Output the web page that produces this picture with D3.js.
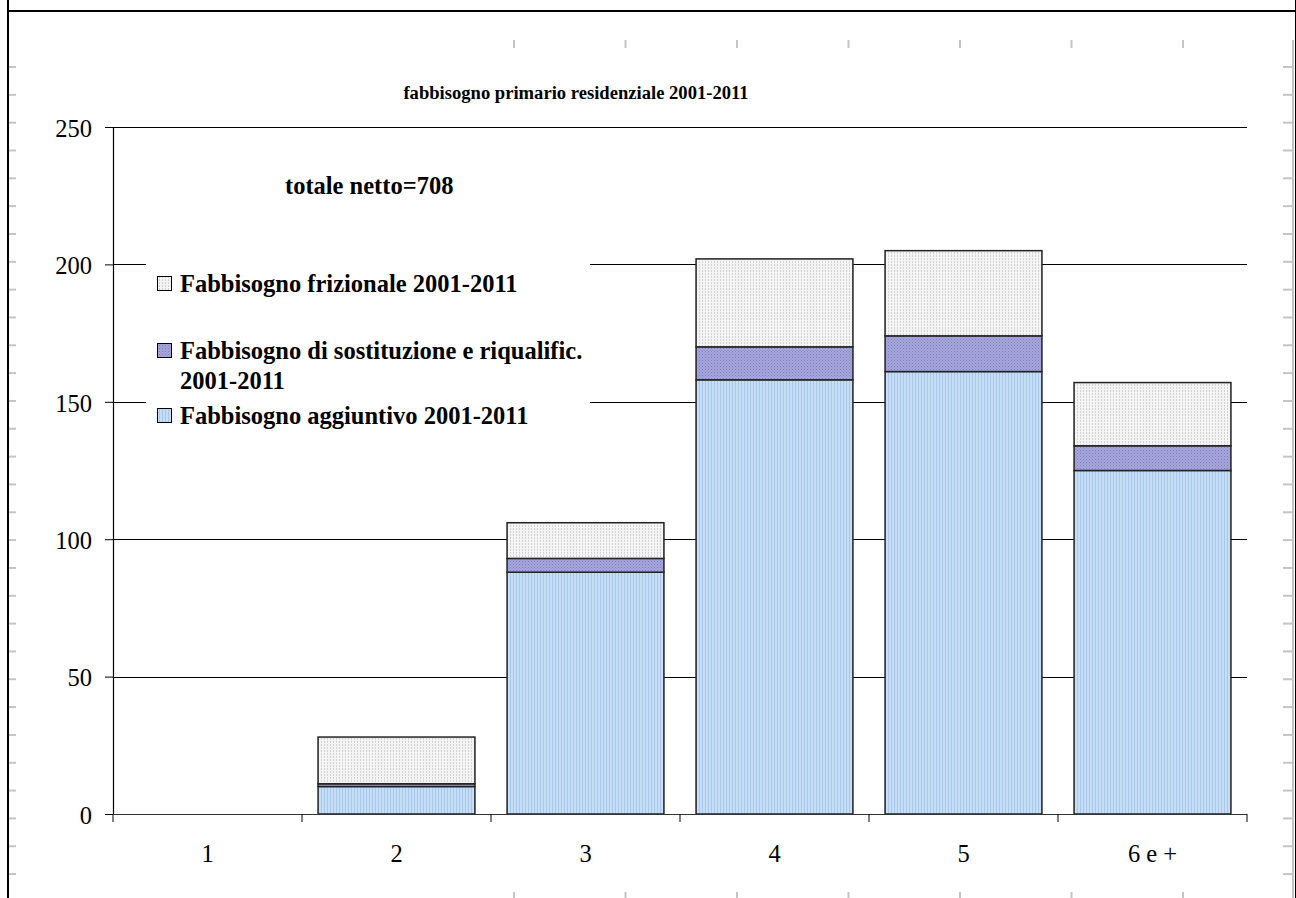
<!DOCTYPE html>
<html>
<head>
<meta charset="utf-8">
<script src="https://cdn.jsdelivr.net/npm/d3@7"></script>
<style>
  html, body { margin: 0; padding: 0; background: #fff; }
  svg { display: block; }
  text { font-family: "Liberation Serif", "Times New Roman", Times, serif; fill: #000; }
</style>
</head>
<body>
<svg id="chart" width="1296" height="898"></svg>
<script>
// Categories: number of rooms per dwelling
const categories = ["1", "2", "3", "4", "5", "6 e +"];
// Stacked series (bottom to top)
const aggiuntivo   = [0, 10, 88, 158, 161, 125];
const sostituzione = [0, 1, 5, 12, 13, 9];
const frizionale   = [0, 17, 13, 32, 31, 23];
const yTicks = [0, 50, 100, 150, 200, 250];

const seriesNames = [
  "Fabbisogno aggiuntivo 2001-2011",
  "Fabbisogno di sostituzione e riqualific. 2001-2011",
  "Fabbisogno frizionale 2001-2011"
];
const title = "fabbisogno primario residenziale 2001-2011";
const note = "totale netto=708";

const svg = d3.select("#chart");
const W = 1296, H = 898;
const plot = { left: 113, right: 1247, top: 127, bottom: 814 };
const FONT = "'Liberation Serif', 'Times New Roman', serif";

// Fill patterns
const defs = svg.append("defs");
const pBlue = defs.append("pattern").attr("id", "pBlue").attr("patternUnits", "userSpaceOnUse")
  .attr("width", 3).attr("height", 3);
pBlue.append("rect").attr("width", 3).attr("height", 3).attr("fill", "#c5ddf5");
pBlue.append("rect").attr("x", 0).attr("width", 1).attr("height", 3).attr("fill", "#a9c8ec");

const pPurple = defs.append("pattern").attr("id", "pPurple").attr("patternUnits", "userSpaceOnUse")
  .attr("width", 3).attr("height", 3);
pPurple.append("rect").attr("width", 3).attr("height", 3).attr("fill", "#a6a6dd");
pPurple.append("rect").attr("width", 1).attr("height", 1).attr("fill", "#7f7fc0");
pPurple.append("rect").attr("x", 1.5).attr("y", 1.5).attr("width", 1).attr("height", 1).attr("fill", "#8c8cc8");

const pGray = defs.append("pattern").attr("id", "pGray").attr("patternUnits", "userSpaceOnUse")
  .attr("width", 3).attr("height", 3);
pGray.append("rect").attr("width", 3).attr("height", 3).attr("fill", "#f4f4f4");
pGray.append("rect").attr("width", 1).attr("height", 2).attr("fill", "#d2d2d2");

const fills = ["url(#pBlue)", "url(#pPurple)", "url(#pGray)"];

// Outer frame with light page ticks
const frame = svg.append("g");
const sideTicks = d3.range(67, 880, 27.83);
const topTicks = d3.range(514, 1200, 111.5);
frame.selectAll("line.lt").data(sideTicks).join("line")
  .attr("x1", 8).attr("x2", 16).attr("y1", d => d).attr("y2", d => d)
  .attr("stroke", "#c4c4c4").attr("stroke-width", 2);
frame.selectAll("line.rt").data(sideTicks).join("line")
  .attr("x1", 1283).attr("x2", 1294).attr("y1", d => d).attr("y2", d => d)
  .attr("stroke", "#c4c4c4").attr("stroke-width", 2);
frame.selectAll("line.tt").data(topTicks).join("line")
  .attr("x1", d => d).attr("x2", d => d).attr("y1", 40).attr("y2", 48)
  .attr("stroke", "#c4c4c4").attr("stroke-width", 2);
frame.selectAll("line.bt").data(topTicks).join("line")
  .attr("x1", d => d).attr("x2", d => d).attr("y1", 892).attr("y2", 898)
  .attr("stroke", "#c4c4c4").attr("stroke-width", 2);
frame.append("line").attr("x1", 1293).attr("x2", 1293).attr("y1", 40).attr("y2", H)
  .attr("stroke", "#c4c4c4").attr("stroke-width", 2);
frame.append("line").attr("x1", 8).attr("x2", 8).attr("y1", 0).attr("y2", H)
  .attr("stroke", "#000").attr("stroke-width", 2);
frame.append("line").attr("x1", 8).attr("x2", W).attr("y1", 11).attr("y2", 11)
  .attr("stroke", "#000").attr("stroke-width", 2);
frame.append("line").attr("x1", 1295.5).attr("x2", 1295.5).attr("y1", 0).attr("y2", H)
  .attr("stroke", "#000").attr("stroke-width", 1);

// Scales
const x = d3.scaleBand().domain(categories).range([plot.left, plot.right])
  .paddingInner(0.17).paddingOuter(0.085);
const y = d3.scaleLinear().domain([0, 250]).range([plot.bottom, plot.top]);

// Gridlines
svg.append("g").selectAll("line").data(yTicks.filter(d => d > 0)).join("line")
  .attr("x1", plot.left).attr("x2", plot.right)
  .attr("y1", d => Math.round(y(d)) + 0.5).attr("y2", d => Math.round(y(d)) + 0.5)
  .attr("stroke", "#000").attr("stroke-width", 1);

// Stacked bars
const rows = categories.map((c, i) => ({
  cat: c, a: aggiuntivo[i], s: sostituzione[i], f: frizionale[i]
}));
const stack = d3.stack().keys(["a", "s", "f"])(rows);
const barG = svg.append("g");
stack.forEach((layer, k) => {
  barG.append("g").selectAll("rect").data(layer.filter(d => d[1] - d[0] > 0)).join("rect")
    .attr("x", d => x(d.data.cat))
    .attr("width", x.bandwidth())
    .attr("y", d => y(d[1]))
    .attr("height", d => y(d[0]) - y(d[1]))
    .attr("fill", fills[k])
    .attr("stroke", "#222").attr("stroke-width", 1.5);
});

// Y axis
const yAxis = svg.append("g").attr("transform", `translate(${plot.left},0)`)
  .call(d3.axisLeft(y).tickValues(yTicks).tickSize(8).tickPadding(13).tickFormat(d3.format("d")));
yAxis.select(".domain").attr("stroke", "#000").attr("stroke-width", 1.2);
yAxis.selectAll(".tick line").attr("stroke", "#000");
yAxis.selectAll(".tick text").attr("font-size", 24.5).attr("dy", "0.38em")
  .style("font-family", FONT).attr("fill", "#000");

// X axis with ticks at category boundaries
const gap = x.step() - x.bandwidth();
const bounds = categories.map(c => x(c) - gap / 2).concat([plot.right]);
const xAxisG = svg.append("g");
xAxisG.append("line").attr("x1", plot.left).attr("x2", plot.right)
  .attr("y1", plot.bottom + 0.5).attr("y2", plot.bottom + 0.5)
  .attr("stroke", "#333").attr("stroke-width", 1.2);
xAxisG.selectAll("line.t").data(bounds).join("line")
  .attr("x1", d => d).attr("x2", d => d)
  .attr("y1", plot.bottom).attr("y2", plot.bottom + 8)
  .attr("stroke", "#000").attr("stroke-width", 1);
xAxisG.selectAll("text").data(categories).join("text")
  .attr("x", d => x(d) + x.bandwidth() / 2)
  .attr("y", plot.bottom + 48)
  .attr("text-anchor", "middle").attr("font-size", 24.5)
  .text(d => d);

// Title and note
svg.append("text").attr("x", 576).attr("y", 99).attr("text-anchor", "middle")
  .attr("font-size", 18.6).attr("font-weight", "bold").text(title);
svg.append("text").attr("x", 285).attr("y", 194)
  .attr("font-size", 24.5).attr("font-weight", "bold").text(note);

// Legend
const lg = svg.append("g");
lg.append("rect").attr("x", 146).attr("y", 255).attr("width", 444).attr("height", 180).attr("fill", "#fff");
const legendItems = [
  { lines: [seriesNames[2]], fill: fills[2], y: 284 },
  { lines: ["Fabbisogno di sostituzione e riqualific.", "2001-2011"], fill: fills[1], y: 351 },
  { lines: [seriesNames[0]], fill: fills[0], y: 416 }
];
legendItems.forEach(it => {
  lg.append("rect").attr("x", 157.5).attr("y", it.y - 7.5).attr("width", 14).attr("height", 14)
    .attr("fill", it.fill).attr("stroke", "#000").attr("stroke-width", 1);
  const t = lg.append("text").attr("x", 180).attr("y", it.y + 8)
    .attr("font-size", 24.5).attr("font-weight", "bold");
  it.lines.forEach((ln, i) => {
    t.append("tspan").attr("x", 180).attr("dy", i === 0 ? 0 : 30).text(ln);
  });
});
</script>
</body>
</html>
